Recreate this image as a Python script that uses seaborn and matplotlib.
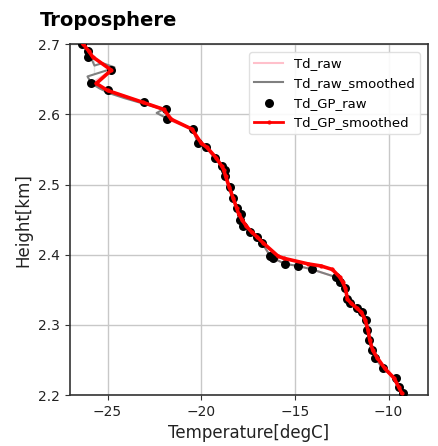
import numpy as np
import pandas as pd
import seaborn as sns
import matplotlib.pyplot as plt

# raw dew point readings (GP raw)
height_raw = [2.700, 2.690, 2.682, 2.663, 2.644, 2.634, 2.617, 2.607, 2.593, 2.579,
              2.559, 2.553, 2.538, 2.526, 2.521, 2.512, 2.496, 2.481, 2.466, 2.458,
              2.449, 2.441, 2.432, 2.425, 2.417, 2.398, 2.395, 2.387, 2.384, 2.379,
              2.368, 2.361, 2.352, 2.337, 2.331, 2.324, 2.318, 2.307, 2.293, 2.278,
              2.264, 2.253, 2.238, 2.224, 2.211, 2.203]
td_raw = [-26.34, -26.02, -26.02, -24.79, -25.86, -24.95, -23.07, -21.89, -21.84, -20.45,
          -20.18, -19.75, -19.27, -18.89, -18.73, -18.73, -18.47, -18.30, -18.09, -17.88,
          -17.93, -17.77, -17.39, -17.02, -16.75, -16.32, -16.16, -15.52, -14.82, -14.07,
          -12.79, -12.57, -12.31, -12.20, -12.04, -11.66, -11.40, -11.23, -11.13, -11.07,
          -10.86, -10.70, -10.32, -9.63, -9.47, -9.25]

# GP smoothed, same heights
td_gp_smooth = [-26.3, -26.0, -25.8, -24.8, -25.6, -25.0, -23.1, -22.0, -21.6, -20.5,
                -20.0, -19.7, -19.2, -18.9, -18.8, -18.7, -18.5, -18.3, -18.1, -18.0,
                -17.8, -17.6, -17.3, -17.0, -16.7, -15.9, -15.6, -14.3, -13.6, -13.0,
                -12.6, -12.45, -12.3, -12.2, -12.0, -11.7, -11.45, -11.25, -11.1, -11.0,
                -10.85, -10.6, -10.2, -9.7, -9.45, -9.3]

# raw smoothed (differs only near the top)
height_sm_top = [2.700, 2.689, 2.680, 2.673, 2.667, 2.663, 2.659, 2.654, 2.644, 2.637,
                 2.630, 2.623, 2.616, 2.612, 2.609, 2.605, 2.602, 2.596, 2.590]
td_sm_top = [-26.34, -26.02, -25.70, -25.27, -24.63, -25.0, -25.70, -26.07, -25.86, -25.43,
             -24.89, -24.09, -23.18, -22.21, -21.89, -22.21, -22.38, -21.95, -21.41]

height_sm = height_sm_top + height_raw[9:]
td_sm = td_sm_top + td_raw[9:]

fig = plt.figure(figsize=(4.38, 4.46), dpi=100)
ax = fig.add_axes([0.160, 0.114, 0.817, 0.787])

sns.lineplot(x=td_raw, y=height_raw, sort=False, color="pink", lw=1.5, label="Td_raw", ax=ax)
sns.lineplot(x=td_sm, y=height_sm, sort=False, color="gray", lw=1.5, label="Td_raw_smoothed", ax=ax)
sns.scatterplot(x=td_raw, y=height_raw, color="black", s=42, edgecolor="black", lw=0,
                label="Td_GP_raw", ax=ax, zorder=3)
sns.lineplot(x=td_gp_smooth, y=height_raw, sort=False, color="red", lw=2.6, marker="o",
             markersize=3, markeredgewidth=0, label="Td_GP_smoothed", ax=ax, zorder=4)

ax.set_xlim(-27, -7.9)
ax.set_ylim(2.2, 2.7)
ax.set_xticks([-25, -20, -15, -10])
ax.set_yticks([2.2, 2.3, 2.4, 2.5, 2.6, 2.7])
ax.yaxis.set_major_formatter(plt.FormatStrFormatter("%.1f"))
ax.grid(True, color="#c8c8c8", lw=1)
ax.set_axisbelow(True)
for s in ax.spines.values():
    s.set_color("#333333")
    s.set_linewidth(1.2)
ax.tick_params(labelsize=10, colors="#333333", labelcolor="#222222")
ax.set_xlabel("Temperature[degC]", fontsize=12, color="#222222")
ax.set_ylabel("Height[km]", fontsize=12, color="#222222")
leg = ax.legend(loc="upper right", fontsize=9.5, framealpha=0.9, edgecolor="#dddddd",
                handlelength=2.2, borderaxespad=0.6)
red_handle = leg.get_lines()[-1]
red_handle.set_marker("o")
red_handle.set_markersize(3)
red_handle.set_linewidth(2)

fig.text(0.09, 0.955, "Troposphere", fontsize=14, fontweight="bold", ha="left", va="center")

fig.savefig("out.png", dpi=100)
